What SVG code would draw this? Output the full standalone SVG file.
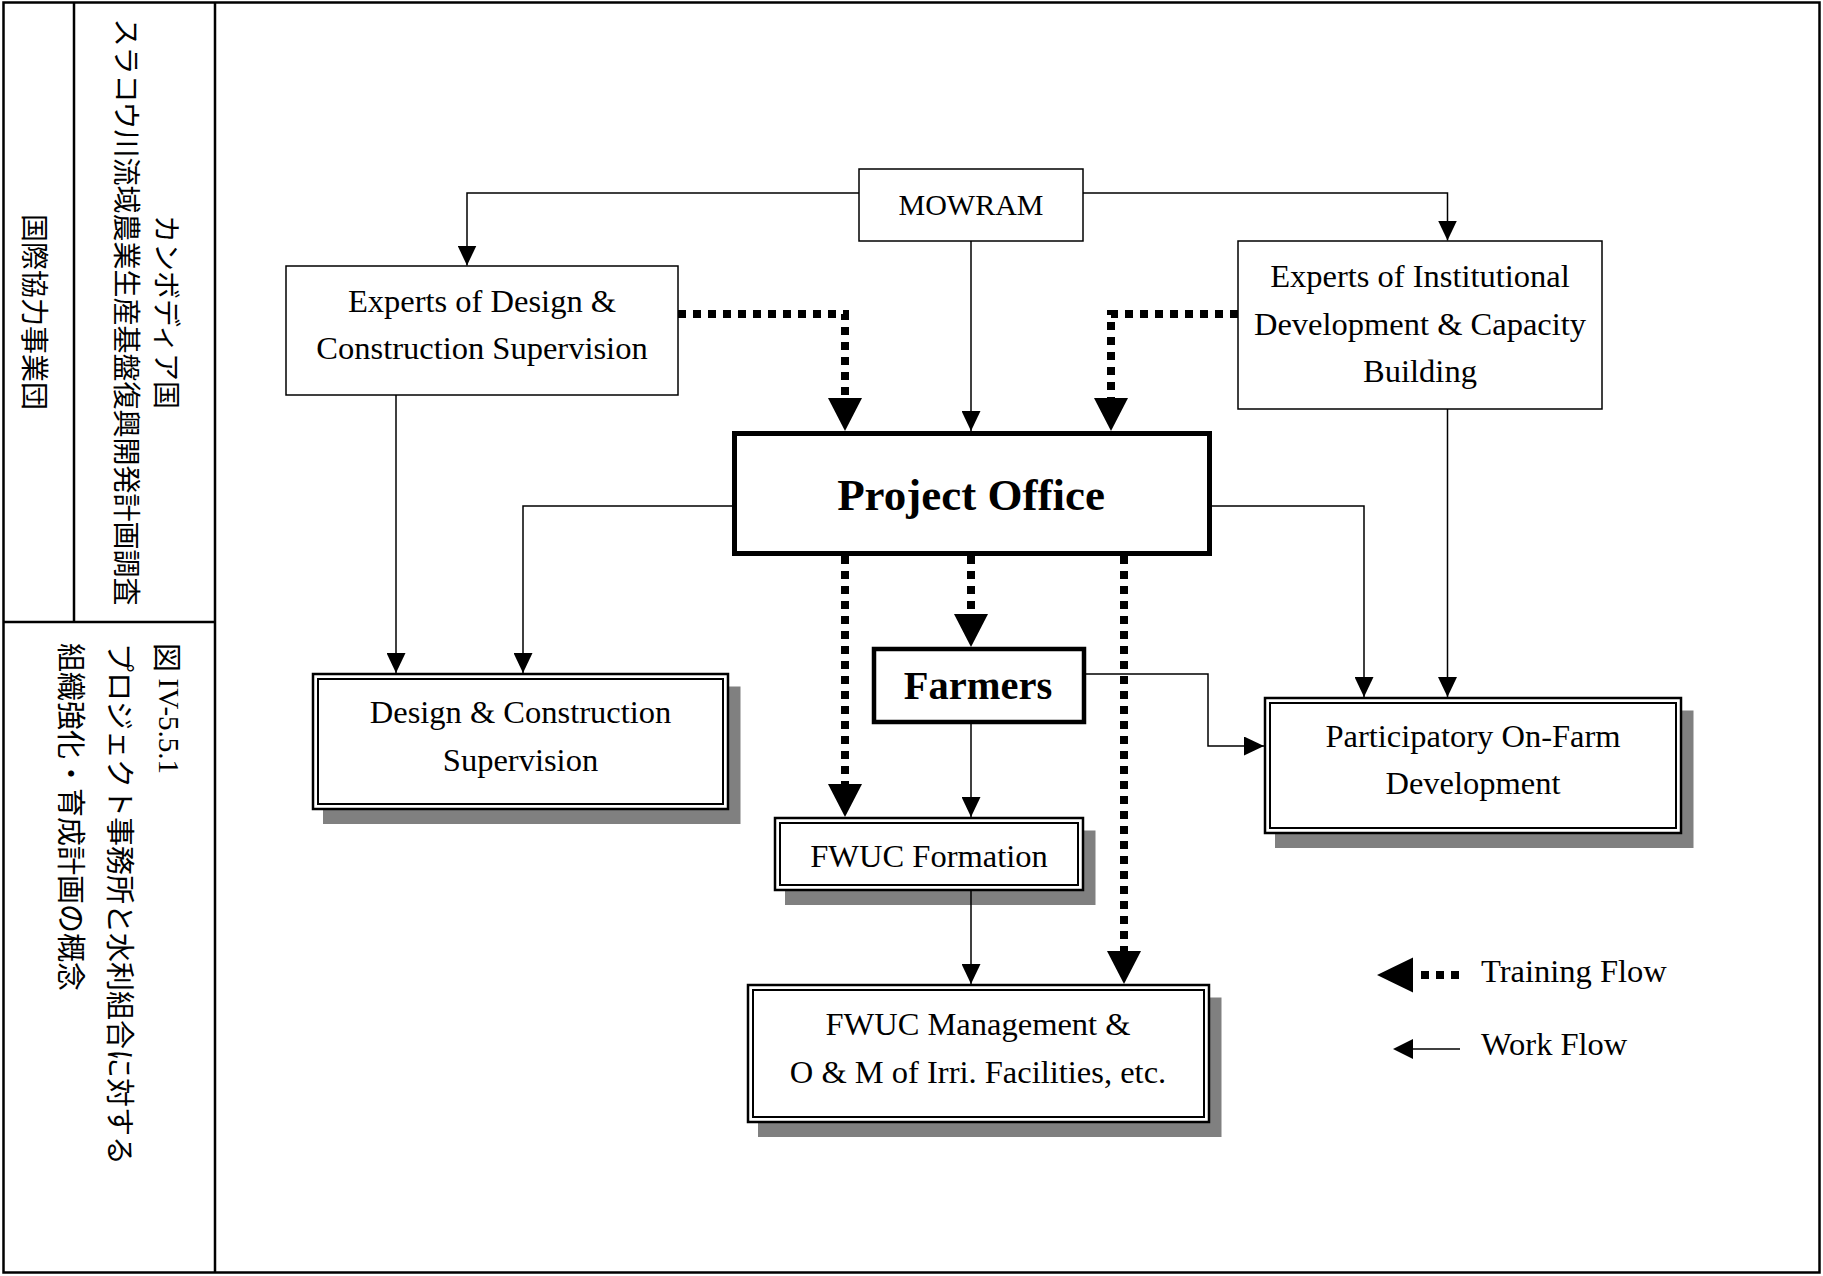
<svg xmlns="http://www.w3.org/2000/svg" width="1823" height="1276" viewBox="0 0 1823 1276">
<defs>
<style>
.frame{fill:none;stroke:#000;stroke-width:2.5}
.box{fill:#fff;stroke:#000;stroke-width:1.5}
.dbl-o{fill:#fff;stroke:#000;stroke-width:2.5}
.dbl-i{fill:none;stroke:#000;stroke-width:2}
.shadow{fill:#808080}
.lbl{font-family:"Liberation Serif","Times New Roman",serif;font-size:32.5px;fill:#000;text-anchor:middle}
.lbl.small{font-size:30px}
.lbl.po{font-size:45px;font-weight:bold}
.lbl.fm{font-size:40.5px;font-weight:bold}
.lbl.start{text-anchor:start}
.jp{font-family:"Noto Sans CJK JP","Noto Sans CJK SC",sans-serif;fill:#000}
.work{fill:none;stroke:#000;stroke-width:1.5}
.train{fill:none;stroke:#000;stroke-width:8;stroke-dasharray:8 7}
</style>
<marker id="ah" markerUnits="userSpaceOnUse" markerWidth="20" markerHeight="19" viewBox="0 0 20 19" refX="20" refY="9.5" orient="auto"><path d="M0,0 L20,9.5 L0,19 z" fill="#000"/></marker>
<marker id="ahb" markerUnits="userSpaceOnUse" markerWidth="33" markerHeight="34" viewBox="0 0 33 34" refX="0" refY="17" orient="auto"><path d="M0,0 L33,17 L0,34 z" fill="#000"/></marker>
</defs>
<rect width="1823" height="1276" fill="#fff"/>

<g id="frame">
<rect class="frame" x="3.5" y="2.5" width="1816" height="1270"/>
<line class="frame" x1="215" y1="2.5" x2="215" y2="1272.5"/>
<line class="frame" x1="74" y1="2.5" x2="74" y2="622"/>
<line class="frame" x1="3.5" y1="622" x2="215" y2="622"/>
</g>

<g id="title">
<text class="jp" font-size="28" text-anchor="middle" dominant-baseline="central" transform="translate(36,312) rotate(90)">国際協力事業団</text>
<text class="jp" font-size="28" text-anchor="middle" dominant-baseline="central" transform="translate(168,312) rotate(90)">カンボディア国</text>
<text class="jp" font-size="28" text-anchor="middle" dominant-baseline="central" transform="translate(128,312) rotate(90)">スラコウ川流域農業生産基盤復興開発計画調査</text>
<text class="jp" font-size="29" dominant-baseline="central" transform="translate(169,643) rotate(90)">図 <tspan font-family="Liberation Serif, serif">IV-5.5.1</tspan></text>
<text class="jp" font-size="29" dominant-baseline="central" transform="translate(122,643) rotate(90)">プロジェクト事務所と水利組合に対する</text>
<text class="jp" font-size="29" dominant-baseline="central" transform="translate(73,643) rotate(90)">組織強化・育成計画の概念</text>
</g>

<g id="mowram">
<rect class="box" x="859" y="169" width="224" height="72"/>
<text class="lbl small" x="971" y="215">MOWRAM</text>
</g>

<g id="experts-dcs">
<rect class="box" x="286" y="266" width="392" height="129"/>
<text class="lbl" x="482" y="312">Experts of Design &amp;</text>
<text class="lbl" x="482" y="359">Construction Supervision</text>
</g>

<g id="experts-idcb">
<rect class="box" x="1238" y="241" width="364" height="168"/>
<text class="lbl" x="1420" y="287">Experts of Institutional</text>
<text class="lbl" x="1420" y="335">Development &amp; Capacity</text>
<text class="lbl" x="1420" y="382">Building</text>
</g>

<g id="project-office">
<rect x="734.5" y="433.5" width="475" height="120" fill="#fff" stroke="#000" stroke-width="5"/>
<text class="lbl po" x="971" y="510">Project Office</text>
</g>

<g id="farmers">
<rect x="874" y="649" width="210" height="73" fill="#fff" stroke="#000" stroke-width="4.5"/>
<text class="lbl fm" x="978" y="699">Farmers</text>
</g>

<g id="dcs">
<rect class="shadow" x="323" y="686.5" width="417.5" height="137.5"/>
<rect class="dbl-o" x="313" y="674" width="415" height="135"/>
<rect class="dbl-i" x="318" y="679" width="405" height="125"/>
<text class="lbl" x="520.5" y="723">Design &amp; Construction</text>
<text class="lbl" x="520.5" y="771">Supervision</text>
</g>

<g id="fwuc-formation">
<rect class="shadow" x="785" y="830.5" width="310.5" height="74.5"/>
<rect class="dbl-o" x="775" y="818" width="308" height="72"/>
<rect class="dbl-i" x="780" y="823" width="298" height="62"/>
<text class="lbl" x="929" y="867">FWUC Formation</text>
</g>

<g id="participatory">
<rect class="shadow" x="1275" y="710.5" width="418.5" height="137.5"/>
<rect class="dbl-o" x="1265" y="698" width="416" height="135"/>
<rect class="dbl-i" x="1270" y="703" width="406" height="125"/>
<text class="lbl" x="1473" y="747">Participatory On-Farm</text>
<text class="lbl" x="1473" y="794">Development</text>
</g>

<g id="fwuc-management">
<rect class="shadow" x="758" y="997.5" width="463.5" height="139.5"/>
<rect class="dbl-o" x="748" y="985" width="461" height="137"/>
<rect class="dbl-i" x="753" y="990" width="451" height="127"/>
<text class="lbl" x="978" y="1035">FWUC Management &amp;</text>
<text class="lbl" x="978" y="1083">O &amp; M of Irri. Facilities, etc.</text>
</g>

<g id="connectors">
<path class="work" d="M859,193 H467 V265.5" marker-end="url(#ah)"/>
<path class="work" d="M1083,193 H1447.5 V240.5" marker-end="url(#ah)"/>
<path class="work" d="M971,241 V431" marker-end="url(#ah)"/>
<path class="work" d="M396,395 V673" marker-end="url(#ah)"/>
<path class="work" d="M732,506 H523 V673" marker-end="url(#ah)"/>
<path class="work" d="M1212,506 H1364 V697" marker-end="url(#ah)"/>
<path class="work" d="M1447.5,409 V697" marker-end="url(#ah)"/>
<path class="work" d="M1086,674 H1208 V746 H1264" marker-end="url(#ah)"/>
<path class="work" d="M971,724 V817" marker-end="url(#ah)"/>
<path class="work" d="M971,891 V984" marker-end="url(#ah)"/>
<path class="train" d="M678,314 H845 V398" marker-end="url(#ahb)"/>
<path class="train" d="M1238,314 H1111 V398" marker-end="url(#ahb)"/>
<path class="train" d="M845,556 V784" marker-end="url(#ahb)"/>
<path class="train" d="M971,556 V614" marker-end="url(#ahb)"/>
<path class="train" d="M1124,556 V951" marker-end="url(#ahb)"/>
</g>

<g id="legend">
<path d="M1377,975 L1413,957.5 L1413,992.5 z" fill="#000"/>
<line x1="1421" y1="975" x2="1460" y2="975" stroke="#000" stroke-width="8" stroke-dasharray="8 7"/>
<text class="lbl start" x="1481" y="982">Training Flow</text>
<path d="M1393,1049 L1413,1039 L1413,1059 z" fill="#000"/>
<line x1="1413" y1="1049" x2="1460" y2="1049" stroke="#000" stroke-width="1.5"/>
<text class="lbl start" x="1481" y="1055">Work Flow</text>
</g>
</svg>
